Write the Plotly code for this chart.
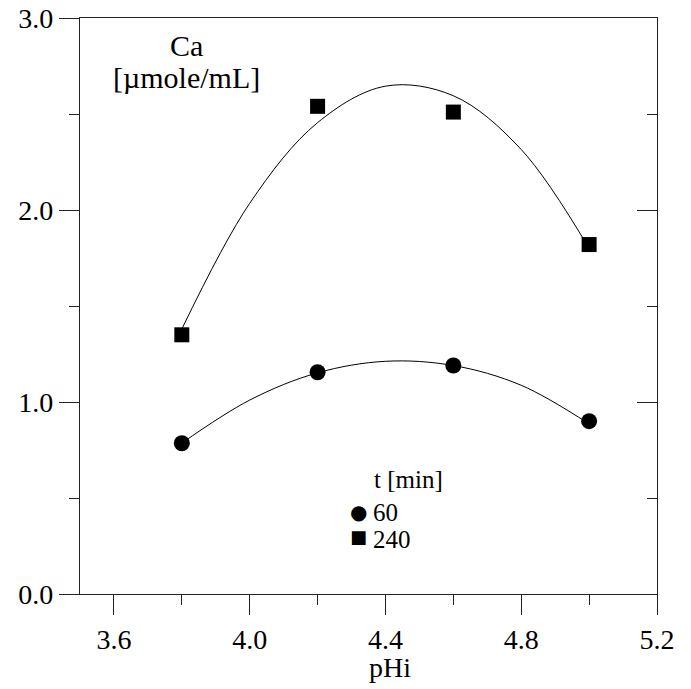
import plotly.graph_objects as go

# data
ph = [3.8, 4.2, 4.6, 5.0]
ca_60 = [0.785, 1.155, 1.19, 0.90]
ca_240 = [1.35, 2.54, 2.51, 1.82]

# fitted trend curves
fit_x = [3.8, 4.0, 4.2, 4.4, 4.6, 4.8, 5.0]
fit_60 = [0.786, 1.01, 1.152, 1.212, 1.19, 1.087, 0.886]
fit_240 = [1.38, 2.035, 2.455, 2.645, 2.595, 2.315, 1.80]

series_names = ["60", "240"]
x_ticks = [3.6, 4.0, 4.4, 4.8, 5.2]
y_ticks = [0.0, 1.0, 2.0, 3.0]

FONT = "Liberation Serif, Times New Roman, serif"
AX = "#222222"
W_PLOT, H_PLOT = 577, 576


def px(xpix):
    return (xpix - 80) / W_PLOT


def py(ypix):
    return (594 - ypix) / H_PLOT


fig = go.Figure()
fig.add_trace(go.Scatter(x=fit_x, y=fit_240, mode="lines", line=dict(color="black", width=1, shape="spline"),
                         showlegend=False, hoverinfo="skip"))
fig.add_trace(go.Scatter(x=fit_x, y=fit_60, mode="lines", line=dict(color="black", width=1, shape="spline"),
                         showlegend=False, hoverinfo="skip"))
fig.add_trace(go.Scatter(x=ph, y=ca_60, mode="markers", name=series_names[0], showlegend=False,
                         marker=dict(symbol="circle", size=16, color="black")))
fig.add_trace(go.Scatter(x=ph, y=ca_240, mode="markers", name=series_names[1], showlegend=False,
                         marker=dict(symbol="square", size=15, color="black")))
# invisible trace for right axis
fig.add_trace(go.Scatter(x=[ph[0]], y=[ca_60[0]], yaxis="y2", mode="markers",
                         marker=dict(opacity=0), showlegend=False, hoverinfo="skip"))

fig.update_layout(
    width=691, height=689,
    margin=dict(l=72, r=42, t=10, b=103, autoexpand=False),
    paper_bgcolor="white", plot_bgcolor="white",
    font=dict(family=FONT, size=28, color="black"),
    showlegend=False,
    xaxis=dict(range=[3.5, 5.2], tickvals=x_ticks, ticktext=[f"{v:.1f}" for v in x_ticks],
               ticks="outside", ticklen=20, tickwidth=1.3, tickcolor=AX, automargin=False,
               ticklabeloverflow="allow",
               showline=True, linecolor=AX, linewidth=1.3, mirror=True,
               showgrid=False, zeroline=False,
               minor=dict(tickvals=[3.8, 4.2, 4.6, 5.0], ticks="outside", ticklen=10, tickwidth=1.3, tickcolor=AX),
               tickfont=dict(family=FONT, size=28)),
    yaxis=dict(range=[0, 3], tickvals=y_ticks, ticktext=[f"{v:.1f}" for v in y_ticks],
               ticks="outside", ticklen=20, tickwidth=1.3, tickcolor=AX, automargin=False,
               ticklabeloverflow="allow",
               showline=True, linecolor=AX, linewidth=1.3, mirror=True,
               showgrid=False, zeroline=False,
               minor=dict(tickvals=[0.5, 1.5, 2.5], ticks="outside", ticklen=10, tickwidth=1.3, tickcolor=AX),
               tickfont=dict(family=FONT, size=28)),
    yaxis2=dict(range=[0, 3], overlaying="y", side="right", tickvals=y_ticks, showticklabels=False,
                ticks="inside", ticklen=20, tickwidth=1.3, tickcolor=AX, automargin=False,
                showline=False, showgrid=False, zeroline=False,
                minor=dict(tickvals=[0.5, 1.5, 2.5], ticks="inside", ticklen=10, tickwidth=1.3, tickcolor=AX)),
    annotations=[
        # x-axis title
        dict(text="pHi", xref="paper", yref="paper", x=px(390), y=py(667),
             xanchor="center", yanchor="middle", showarrow=False,
             font=dict(family=FONT, size=28, color="black")),
        dict(text="Ca", xref="paper", yref="paper", x=px(186), y=py(45),
             xanchor="center", yanchor="middle", showarrow=False,
             font=dict(family=FONT, size=30, color="black")),
        dict(text="[µmole/mL]", xref="paper", yref="paper", x=px(186), y=py(77),
             xanchor="center", yanchor="middle", showarrow=False,
             font=dict(family=FONT, size=30, color="black")),
        # legend
        dict(text="t [min]", xref="paper", yref="paper", x=px(372), y=py(479),
             xanchor="left", yanchor="middle", showarrow=False,
             font=dict(family=FONT, size=25, color="black")),
        dict(text="●", xref="paper", yref="paper", x=px(358), y=py(512),
             xanchor="center", yanchor="middle", showarrow=False,
             font=dict(family="DejaVu Sans", size=20, color="black")),
        dict(text=series_names[0], xref="paper", yref="paper", x=px(371), y=py(512),
             xanchor="left", yanchor="middle", showarrow=False,
             font=dict(family=FONT, size=25, color="black")),
        dict(text="■", xref="paper", yref="paper", x=px(358), y=py(536),
             xanchor="center", yanchor="middle", showarrow=False,
             font=dict(family="DejaVu Sans", size=18, color="black")),
        dict(text=series_names[1], xref="paper", yref="paper", x=px(371), y=py(539),
             xanchor="left", yanchor="middle", showarrow=False,
             font=dict(family=FONT, size=25, color="black")),
    ],
)

fig.write_html("out.html")
